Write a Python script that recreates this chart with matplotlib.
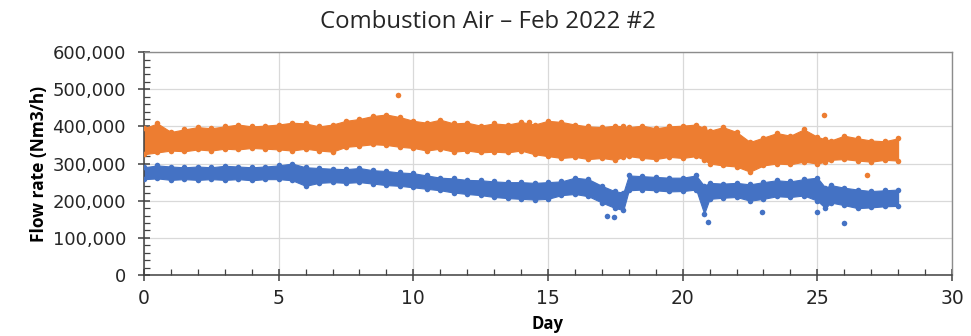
import matplotlib
matplotlib.use('Agg')
import matplotlib.pyplot as plt
from matplotlib.ticker import MultipleLocator, FuncFormatter

# envelope of the scatter bands (values in thousand Nm3/h)
days = [0, 0.5, 1, 1.5, 2, 2.5, 3, 3.5, 4, 4.5, 5, 5.5, 6, 6.5, 7, 7.5, 8, 8.5, 9, 9.5,
        10, 10.5, 11, 11.5, 12, 12.5, 13, 13.5, 14, 14.5, 15, 15.5, 16, 16.5, 17, 17.5, 17.8,
        18, 18.5, 19, 19.5, 20, 20.5, 20.8, 21, 21.5, 22, 22.5, 23, 23.5, 24, 24.5, 25, 25.3,
        25.5, 26, 26.5, 27, 27.5, 28]

orange_high = [395, 408, 385, 392, 398, 395, 400, 405, 400, 402, 405, 410, 408, 400, 405, 415, 420, 428, 432, 425,
               415, 410, 418, 408, 410, 402, 408, 405, 412, 405, 415, 412, 405, 400, 398, 402, 400,
               398, 402, 395, 400, 402, 405, 395, 388, 398, 385, 358, 370, 382, 375, 392, 372, 365,
               362, 375, 368, 362, 360, 368]
orange_low = [325, 330, 335, 333, 338, 335, 340, 338, 342, 340, 338, 335, 340, 335, 332, 345, 348, 352, 350, 345,
              342, 335, 340, 332, 335, 330, 332, 330, 335, 325, 320, 315, 318, 312, 315, 310, 318,
              320, 315, 312, 318, 315, 320, 310, 300, 295, 292, 278, 295, 300, 298, 305, 300, 305,
              310, 312, 308, 305, 310, 308]

blue_high = [290, 295, 292, 290, 292, 290, 294, 292, 290, 292, 295, 300, 290, 288, 286, 285, 288, 282, 280, 276,
             274, 268, 262, 260, 256, 255, 252, 250, 250, 248, 250, 252, 262, 258, 240, 225, 222,
             268, 266, 264, 262, 262, 268, 240, 248, 246, 248, 244, 250, 255, 252, 258, 262, 235,
             242, 235, 230, 226, 228, 230]
blue_low = [258, 260, 256, 258, 256, 258, 256, 258, 255, 258, 258, 255, 240, 248, 250, 248, 250, 246, 242, 240,
            236, 232, 228, 222, 218, 215, 210, 207, 205, 203, 205, 215, 218, 212, 195, 180, 175,
            228, 230, 228, 225, 226, 230, 165, 205, 208, 210, 200, 205, 212, 210, 214, 200, 180,
            195, 188, 180, 182, 185, 186]

# stray points
orange_out_day = [9.43, 14.3, 25.25, 26.85]
orange_out_val = [484, 412, 430, 270]
blue_out_day = [17.2, 17.45, 20.95, 22.95, 25.0, 26.0]
blue_out_val = [158, 156, 143, 170, 170, 140]

orange = '#ED7D31'
blue = '#4472C4'

k = 1000
fig = plt.figure(figsize=(9.71, 3.36), dpi=100)
ax = fig.add_axes([0.1483, 0.1815, 0.8321, 0.6635])

for lo, hi, c in [(orange_low, orange_high, orange), (blue_low, blue_high, blue)]:
    ax.fill_between(days, [v * k for v in lo], [v * k for v in hi], facecolor=c,
                    edgecolor=c, lw=0.8, zorder=2)
    ax.scatter(days, [v * k for v in lo], s=16, color=c, lw=0, zorder=3)
    ax.scatter(days, [v * k for v in hi], s=16, color=c, lw=0, zorder=3)

ax.scatter(orange_out_day, [v * k for v in orange_out_val], s=16, color=orange, lw=0, zorder=3)
ax.scatter(blue_out_day, [v * k for v in blue_out_val], s=16, color=blue, lw=0, zorder=3)

ax.set_xlim(0, 30)
ax.set_ylim(0, 600000)
ax.xaxis.set_major_locator(MultipleLocator(5))
ax.xaxis.set_minor_locator(MultipleLocator(1))
ax.yaxis.set_major_locator(MultipleLocator(100000))
ax.yaxis.set_minor_locator(MultipleLocator(20000))
ax.yaxis.set_major_formatter(FuncFormatter(lambda v, p: f'{int(v):,}'))

ax.grid(True, which='major', color='#D9D9D9', lw=0.9, zorder=0)
ax.set_axisbelow(True)
ax.tick_params(which='major', direction='inout', length=8, width=1.1, color='#404040',
               labelsize=13, labelcolor='#262626')
ax.tick_params(axis='y', which='major', pad=9)
ax.tick_params(axis='x', which='major', pad=6, labelsize=13.5)
ax.tick_params(which='minor', direction='in', length=4, width=0.9, color='#404040')
for s in ['left', 'bottom']:
    ax.spines[s].set_color('#404040')
    ax.spines[s].set_linewidth(1.1)
for s in ['top', 'right']:
    ax.spines[s].set_color('#8C8C8C')
    ax.spines[s].set_linewidth(1.0)

ax.set_xlabel('Day', fontsize=12, fontweight='bold', family='Open Sans', labelpad=5)
ax.set_ylabel('Flow rate (Nm3/h)', fontsize=12.5, fontweight='bold', family='Open Sans', labelpad=3)
fig.text(0.503, 0.934, 'Combustion Air \u2013 Feb 2022 #2', ha='center', va='center',
         fontsize=17.3, family='Open Sans', color='#262626')

fig.savefig('out.png', dpi=100)
